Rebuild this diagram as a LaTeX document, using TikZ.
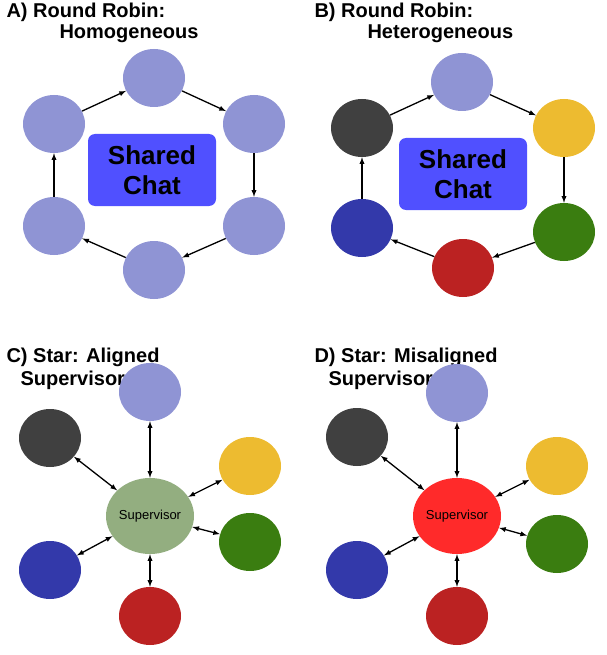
\documentclass[tikz,border=0pt]{standalone}
\usepackage{fontspec}
\setmainfont{Liberation Sans}
\usetikzlibrary{shapes.geometric}
\definecolor{lav}{HTML}{8F94D4}
\definecolor{dgray}{HTML}{404040}
\definecolor{ylw}{HTML}{EDBB30}
\definecolor{grn}{HTML}{3A7D10}
\definecolor{rd}{HTML}{BB2222}
\definecolor{blu}{HTML}{3339AA}
\definecolor{chat}{HTML}{5050FF}
\definecolor{sage}{HTML}{93AE80}
\definecolor{bad}{HTML}{FF2A2A}
\tikzset{
  agent/.style={ellipse,minimum width=62pt,minimum height=58pt,inner sep=0pt},
  sup/.style={ellipse,minimum width=88pt,minimum height=76pt,inner sep=0pt,font=\fontsize{13}{15}\selectfont},
  chatbox/.style={fill=chat,rounded corners=7pt,minimum width=128pt,minimum height=72pt,align=center,font=\bfseries\fontsize{26}{30}\selectfont},
  title/.style={anchor=west,font=\bfseries\fontsize{20}{24}\selectfont},
  flow/.style={line width=1.3pt,-latex},
  link/.style={line width=1.3pt,latex-latex}
}
\begin{document}
\begin{tikzpicture}[x=1pt,y=-1pt]
\useasboundingbox (0,0) rectangle (606,655);
% A) homogeneous ring
\node[title] (tA) at (3,12) {A) Round Robin:};
\node[title] (tA2) at (56,34) {Homogeneous};
\node[agent,fill=lav] (a1) at (154,78) {};
\node[agent,fill=lav] (a2) at (254,124) {};
\node[agent,fill=lav] (a3) at (254,226) {};
\node[agent,fill=lav] (a4) at (154,270) {};
\node[agent,fill=lav] (a5) at (54,226) {};
\node[agent,fill=lav] (a6) at (54,124) {};
\node[chatbox] (chatA) at (152,170) {Shared\\Chat};
\draw[flow] (a6) -- (a1);
\draw[flow] (a1) -- (a2);
\draw[flow] (a2) -- (a3);
\draw[flow] (a3) -- (a4);
\draw[flow] (a4) -- (a5);
\draw[flow] (a5) -- (a6);
% B) heterogeneous ring
\node[title] (tB) at (311,12) {B) Round Robin:};
\node[title] (tB2) at (364,34) {Heterogeneous};
\node[agent,fill=lav] (b1) at (462,82) {};
\node[agent,fill=ylw] (b2) at (564,128) {};
\node[agent,fill=grn] (b3) at (564,232) {};
\node[agent,fill=rd] (b4) at (463,268) {};
\node[agent,fill=blu] (b5) at (362,228) {};
\node[agent,fill=dgray] (b6) at (362,128) {};
\node[chatbox] (chatB) at (463,174) {Shared\\Chat};
\draw[flow] (b6) -- (b1);
\draw[flow] (b1) -- (b2);
\draw[flow] (b2) -- (b3);
\draw[flow] (b3) -- (b4);
\draw[flow] (b4) -- (b5);
\draw[flow] (b5) -- (b6);
% C) aligned supervisor
\node[title] (tC) at (3,357) {C) Star: Aligned};
\node[title] (tC2) at (17,380) {Supervisor};
\node[sup,fill=sage] (sc) at (150,516) {Supervisor};
\node[agent,fill=lav] (c1) at (150,392) {};
\node[agent,fill=ylw] (c2) at (250,466) {};
\node[agent,fill=grn] (c3) at (250,542) {};
\node[agent,fill=rd] (c4) at (150,616) {};
\node[agent,fill=blu] (c5) at (50,570) {};
\node[agent,fill=dgray] (c6) at (50,438) {};
\foreach \n in {c1,c2,c3,c4,c5,c6}
  \draw[link] (sc) -- (\n);
% D) misaligned supervisor
\node[title] (tD) at (311,357) {D) Star: Misaligned};
\node[title] (tD2) at (325,380) {Supervisor};
\node[sup,fill=bad] (sd) at (457,516) {Supervisor};
\node[agent,fill=lav] (d1) at (457,393) {};
\node[agent,fill=ylw] (d2) at (557,466) {};
\node[agent,fill=grn] (d3) at (557,544) {};
\node[agent,fill=rd] (d4) at (457,616) {};
\node[agent,fill=blu] (d5) at (357,570) {};
\node[agent,fill=dgray] (d6) at (357,437) {};
\foreach \n in {d1,d2,d3,d4,d5,d6}
  \draw[link] (sd) -- (\n);
\end{tikzpicture}
\end{document}
